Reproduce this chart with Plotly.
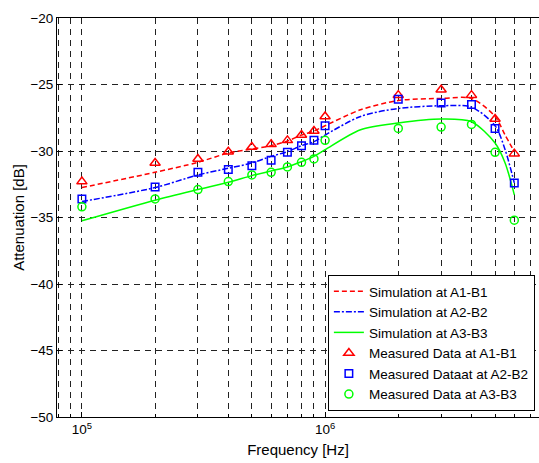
import numpy as np
import plotly.graph_objects as go

# Measured frequencies
freq_meas = [1e5, 2e5, 3e5, 4e5, 5e5, 6e5, 7e5, 8e5, 9e5, 1e6, 2e6, 3e6, 4e6, 5e6, 6e6]
meas_a1b1 = [-32.3, -30.9, -30.6, -30.05, -29.7, -29.5, -29.2, -28.8, -28.5, -27.4, -25.8, -25.4, -25.8, -27.6, -30.2]
meas_a2b2 = [-33.6, -32.7, -31.6, -31.4, -31.1, -30.7, -30.1, -29.6, -29.2, -28.1, -26.1, -26.4, -26.5, -28.3, -32.4]
meas_a3b3 = [-34.2, -33.6, -32.9, -32.3, -31.8, -31.6, -31.2, -30.85, -30.6, -29.2, -28.3, -28.2, -28.0, -30.1, -35.2]

# Simulation curves
freq_sim = [1e5, 2e5, 3e5, 4e5, 5e5, 6e5, 7e5, 8e5, 9e5, 1e6, 1.4e6, 2e6, 3e6, 4e6, 5e6, 5.5e6, 6e6]
sim_a1b1 = [-32.75, -31.6, -30.85, -30.15, -29.85, -29.6, -29.25, -28.8, -28.5, -28.1, -26.9, -26.2, -26.05, -26.05, -27.4, -28.8, -30.05]
sim_a2b2 = [-33.8, -32.75, -31.8, -31.3, -30.9, -30.4, -30.05, -29.6, -29.3, -28.8, -27.4, -26.8, -26.6, -26.7, -28.1, -29.9, -32.4]
sim_a3b3 = [-35.25, -33.7, -32.9, -32.35, -31.85, -31.5, -31.2, -30.8, -30.4, -29.9, -28.4, -27.9, -27.6, -27.8, -29.4, -30.9, -33.3]

# Axis ticks/grid
major_vals = [1e5, 1e6]
major_text = ["10<sup>5</sup>", "10<sup>6</sup>"]
minor_vals = [m * 10 ** e for e in (4, 5, 6) for m in range(2, 10)]
minor_vals = [v for v in minor_vals if 8e4 <= v <= 7e6]
y_ticks = [-50, -45, -40, -35, -30, -25, -20]

fig = go.Figure()
fig.add_trace(go.Scatter(x=freq_sim, y=sim_a1b1, mode="lines", name="Simulation at A1-B1",
                         line=dict(color="#ff0000", width=1.5, dash="5px,3px", shape="spline", smoothing=0.8)))
fig.add_trace(go.Scatter(x=freq_sim, y=sim_a2b2, mode="lines", name="Simulation at A2-B2",
                         line=dict(color="#0000ff", width=1.5, dash="6px,2px,2px,2px", shape="spline", smoothing=0.8)))
fig.add_trace(go.Scatter(x=freq_sim, y=sim_a3b3, mode="lines", name="Simulation at A3-B3",
                         line=dict(color="#00ff00", width=1.5, shape="spline", smoothing=0.8)))
fig.add_trace(go.Scatter(x=freq_meas, y=meas_a1b1, mode="markers", name="Measured Data at A1-B1",
                         marker=dict(symbol="triangle-up-open", color="#ff0000", size=9, line=dict(width=1.5))))
fig.add_trace(go.Scatter(x=freq_meas, y=meas_a2b2, mode="markers", name="Measured Dataat at A2-B2",
                         marker=dict(symbol="square-open", color="#0000ff", size=7.5, line=dict(width=1.5))))
fig.add_trace(go.Scatter(x=freq_meas, y=meas_a3b3, mode="markers", name="Measured Data at A3-B3",
                         marker=dict(symbol="circle-open", color="#00ff00", size=8, line=dict(width=1.5))))

fig.update_layout(
    width=539, height=463,
    margin=dict(l=57, r=0, t=18, b=46),
    paper_bgcolor="white", plot_bgcolor="white",
    font=dict(family="Liberation Sans, Arial", size=13, color="black"),
    showlegend=True,
    legend=dict(x=0.562, y=0.015, xanchor="left", yanchor="bottom",
                bgcolor="white", bordercolor="black", borderwidth=1,
                font=dict(size=13.5), itemwidth=30, tracegroupgap=0),
)
fig.update_xaxes(
    type="log", range=[np.log10(7.9e4), np.log10(7.58e6)],
    tickmode="array", tickvals=major_vals, ticktext=major_text,
    ticks="inside", ticklen=5, tickcolor="black",
    showgrid=True, gridcolor="#222222", gridwidth=1, griddash="6px,5px",
    minor=dict(tickmode="array", tickvals=minor_vals, ticks="inside", ticklen=3,
               tickcolor="black", showgrid=True, gridcolor="#222222", gridwidth=1,
               griddash="6px,5px"),
    showline=True, linecolor="black", linewidth=1, mirror=True,
    zeroline=False,
    title=dict(text="Frequency [Hz]", font=dict(size=15), standoff=8),
    tickfont=dict(size=13.5),
)
fig.update_yaxes(
    range=[-50, -20], tickmode="array", tickvals=y_ticks,
    ticks="inside", ticklen=5, tickcolor="black",
    showgrid=True, gridcolor="#222222", gridwidth=1, griddash="6px,5px",
    showline=True, linecolor="black", linewidth=1, mirror=False,
    zeroline=False,
    title=dict(text="Attenuation [dB]", font=dict(size=15), standoff=2),
    tickfont=dict(size=13.5),
)

fig.write_html("out.html")
